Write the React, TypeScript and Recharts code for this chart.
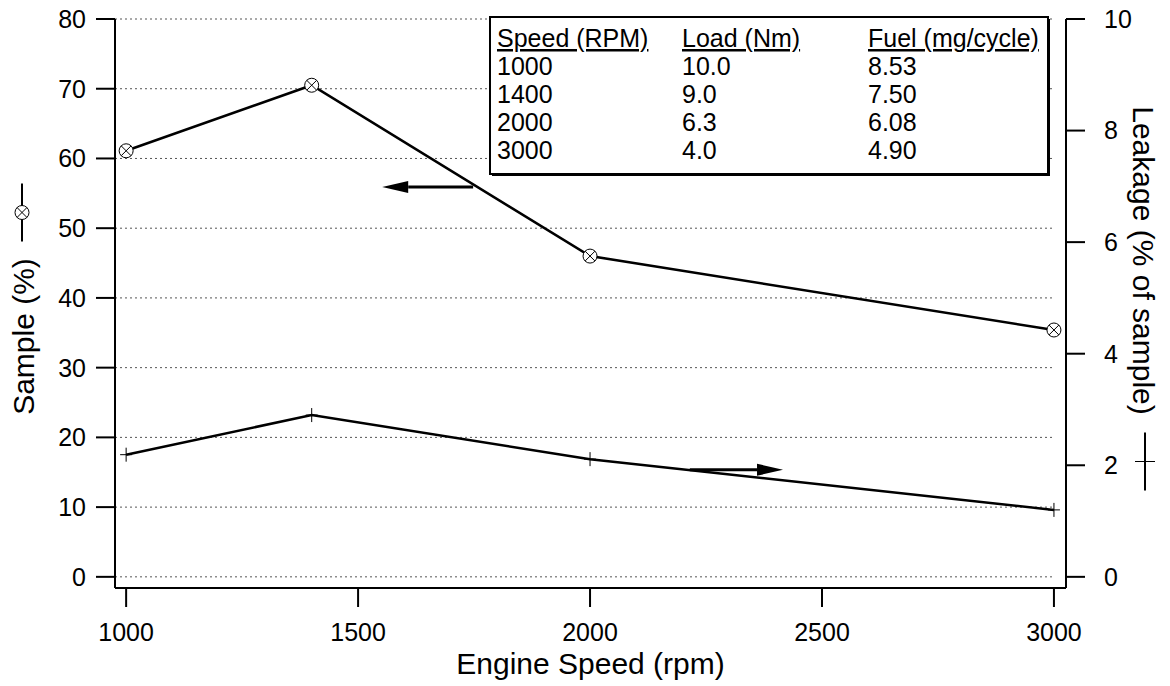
import React from 'react';
import { ComposedChart, Line, XAxis, YAxis, ReferenceLine } from 'recharts';

const FONT = '"Liberation Sans", Arial, Helvetica, sans-serif';

// measured points
const speeds = [1000, 1400, 2000, 3000];
const samplePct = [61.1, 70.5, 46.0, 35.4];
const leakagePct = [2.19, 2.9, 2.11, 1.2];

const xTicks = [1000, 1500, 2000, 2500, 3000];
const sampleTicks = [0, 10, 20, 30, 40, 50, 60, 70, 80];
const leakageTicks = [0, 2, 4, 6, 8, 10];

// operating point table
const tableHeader = ['Speed (RPM)', 'Load (Nm)', 'Fuel (mg/cycle)'];
const tableSpeed = ['1000', '1400', '2000', '3000'];
const tableLoad = ['10.0', '9.0', '6.3', '4.0'];
const tableFuel = ['8.53', '7.50', '6.08', '4.90'];

// arrows pointing to the axis each curve belongs to (data units)
const sampleArrow = { from: 1748, to: 1552, y: 55.9 };
const leakageArrow = { from: 2215, to: 2416, y: 1.92 };

const X_DOMAIN: [number, number] = [976, 3026];

const data = speeds.map((s, i) => ({ speed: s, sample: samplePct[i], leakage: leakagePct[i] }));

const CrossCircle = (props: any) => {
  const { cx, cy, index } = props;
  if (cx == null || cy == null) return <g key={`s${index}`} />;
  const d = 4.9;
  return (
    <g key={`s${index}`}>
      <circle cx={cx} cy={cy} r={7} fill="white" stroke="#000" strokeWidth={1} />
      <line x1={cx - d} y1={cy - d} x2={cx + d} y2={cy + d} stroke="#000" strokeWidth={1} />
      <line x1={cx - d} y1={cy + d} x2={cx + d} y2={cy - d} stroke="#000" strokeWidth={1} />
    </g>
  );
};

const PlusMark = (props: any) => {
  const { cx, cy, index } = props;
  if (cx == null || cy == null) return <g key={`l${index}`} />;
  return (
    <g key={`l${index}`}>
      <line x1={cx - 6} y1={cy} x2={cx + 6} y2={cy} stroke="#000" strokeWidth={1} />
      <line x1={cx} y1={cy - 7} x2={cx} y2={cy + 7} stroke="#000" strokeWidth={1} />
    </g>
  );
};

const Arrow = (props: any) => {
  const { x1, y1, x2, y2 } = props;
  const dir = x2 > x1 ? 1 : -1;
  const head = 26;
  const baseX = x2 - dir * head;
  return (
    <g>
      <line x1={x1} y1={y1} x2={baseX} y2={y2} stroke="#000" strokeWidth={3} />
      <polygon points={`${x2},${y2} ${baseX},${y2 - 6} ${baseX},${y2 + 6}`} fill="#000" />
    </g>
  );
};

const LeftTitle = (props: any) => {
  const vb = props.viewBox || { x: 0, y: 19, width: 115, height: 569 };
  const mid = vb.y + vb.height / 2;
  const tx = 34;
  const ty = mid + 33;
  const sy = mid - 91;
  return (
    <g>
      <text
        x={tx}
        y={ty}
        transform={`rotate(-90, ${tx}, ${ty})`}
        textAnchor="middle"
        fontSize={30}
        fontFamily={FONT}
        fill="#000"
      >
        Sample (%)
      </text>
      <line x1={22} y1={sy - 29} x2={22} y2={sy + 29} stroke="#000" strokeWidth={2} />
      <circle cx={22} cy={sy} r={7} fill="white" stroke="#000" strokeWidth={1} />
      <line x1={17.1} y1={sy - 4.9} x2={26.9} y2={sy + 4.9} stroke="#000" strokeWidth={1} />
      <line x1={17.1} y1={sy + 4.9} x2={26.9} y2={sy - 4.9} stroke="#000" strokeWidth={1} />
    </g>
  );
};

const RightTitle = (props: any) => {
  const vb = props.viewBox || { x: 1066, y: 19, width: 104, height: 569 };
  const mid = vb.y + vb.height / 2;
  const tx = vb.x + 67;
  const ty = mid - 43;
  const sx = vb.x + 79;
  const sy = mid + 158;
  return (
    <g>
      <text
        x={tx}
        y={ty}
        transform={`rotate(90, ${tx}, ${ty})`}
        textAnchor="middle"
        fontSize={30}
        fontFamily={FONT}
        fill="#000"
      >
        Leakage (% of sample)
      </text>
      <line x1={sx} y1={sy - 29} x2={sx} y2={sy + 29} stroke="#000" strokeWidth={2} />
      <line x1={sx - 10} y1={sy} x2={sx + 10} y2={sy} stroke="#000" strokeWidth={1} />
    </g>
  );
};

const BottomTitle = (props: any) => {
  const vb = props.viewBox || { x: 115, y: 588, width: 951, height: 98 };
  return (
    <text
      x={vb.x + vb.width / 2}
      y={vb.y + 86}
      textAnchor="middle"
      fontSize={30}
      fontFamily={FONT}
      fill="#000"
    >
      Engine Speed (rpm)
    </text>
  );
};

const InfoTable = () => {
  const cols = [497, 682, 868];
  const rowY = [47, 75, 103, 131, 159];
  const columns = [tableSpeed, tableLoad, tableFuel];
  return (
    <svg
      width={1170}
      height={686}
      style={{ position: 'absolute', left: 0, top: 0, pointerEvents: 'none' }}
    >
      <rect x={492} y={19} width={558} height={157} fill="#000" />
      <rect x={490} y={17} width={558} height={157} fill="#fff" stroke="#000" strokeWidth={2} />
      {tableHeader.map((h, i) => (
        <text
          key={h}
          x={cols[i]}
          y={rowY[0]}
          fontSize={25}
          fontFamily={FONT}
          fill="#000"
          style={{ textDecoration: 'underline' }}
        >
          {h}
        </text>
      ))}
      {columns.map((col, c) =>
        col.map((v, r) => (
          <text key={`${c}-${r}`} x={cols[c]} y={rowY[r + 1]} fontSize={25} fontFamily={FONT} fill="#000">
            {v}
          </text>
        ))
      )}
    </svg>
  );
};

const axisStyle = { stroke: '#000', strokeWidth: 2 };
const tickStyle = { fontSize: 25, fill: '#000', fontFamily: FONT };

export default function App() {
  return (
    <div style={{ position: 'absolute', left: 0, top: 0, width: 1170, height: 686, background: '#fff' }}>
      <ComposedChart width={1170} height={686} data={data} margin={{ top: 19, right: 0, bottom: 0, left: 0 }}>
        <XAxis
          dataKey="speed"
          type="number"
          domain={X_DOMAIN}
          allowDataOverflow
          ticks={xTicks}
          interval={0}
          height={98}
          tickSize={19}
          tickMargin={16}
          axisLine={axisStyle}
          tickLine={axisStyle}
          tick={tickStyle}
          label={<BottomTitle />}
        />
        <YAxis
          yAxisId="left"
          orientation="left"
          type="number"
          domain={[-1.6, 80]}
          allowDataOverflow
          ticks={sampleTicks}
          interval={0}
          width={115}
          tickSize={19}
          tickMargin={10}
          axisLine={axisStyle}
          tickLine={axisStyle}
          tick={tickStyle}
          label={<LeftTitle />}
        />
        <YAxis
          yAxisId="right"
          orientation="right"
          type="number"
          domain={[-0.2, 10]}
          allowDataOverflow
          ticks={leakageTicks}
          interval={0}
          width={104}
          tickSize={19}
          tickMargin={19}
          axisLine={axisStyle}
          tickLine={axisStyle}
          tick={tickStyle}
          label={<RightTitle />}
        />
        {sampleTicks.map((t) => (
          <ReferenceLine
            key={`g${t}`}
            yAxisId="left"
            segment={[
              { x: X_DOMAIN[0], y: t },
              { x: 3000, y: t },
            ]}
            stroke="#555"
            strokeWidth={1}
            strokeDasharray="2 3"
            ifOverflow="visible"
          />
        ))}
        <ReferenceLine
          yAxisId="left"
          segment={[
            { x: sampleArrow.from, y: sampleArrow.y },
            { x: sampleArrow.to, y: sampleArrow.y },
          ]}
          shape={Arrow}
          ifOverflow="visible"
        />
        <ReferenceLine
          yAxisId="right"
          segment={[
            { x: leakageArrow.from, y: leakageArrow.y },
            { x: leakageArrow.to, y: leakageArrow.y },
          ]}
          shape={Arrow}
          ifOverflow="visible"
        />
        <Line
          yAxisId="left"
          dataKey="sample"
          type="linear"
          stroke="#000"
          strokeWidth={2.5}
          dot={CrossCircle}
          activeDot={false}
          isAnimationActive={false}
        />
        <Line
          yAxisId="right"
          dataKey="leakage"
          type="linear"
          stroke="#000"
          strokeWidth={2.5}
          dot={PlusMark}
          activeDot={false}
          isAnimationActive={false}
        />
      </ComposedChart>
      <InfoTable />
    </div>
  );
}
